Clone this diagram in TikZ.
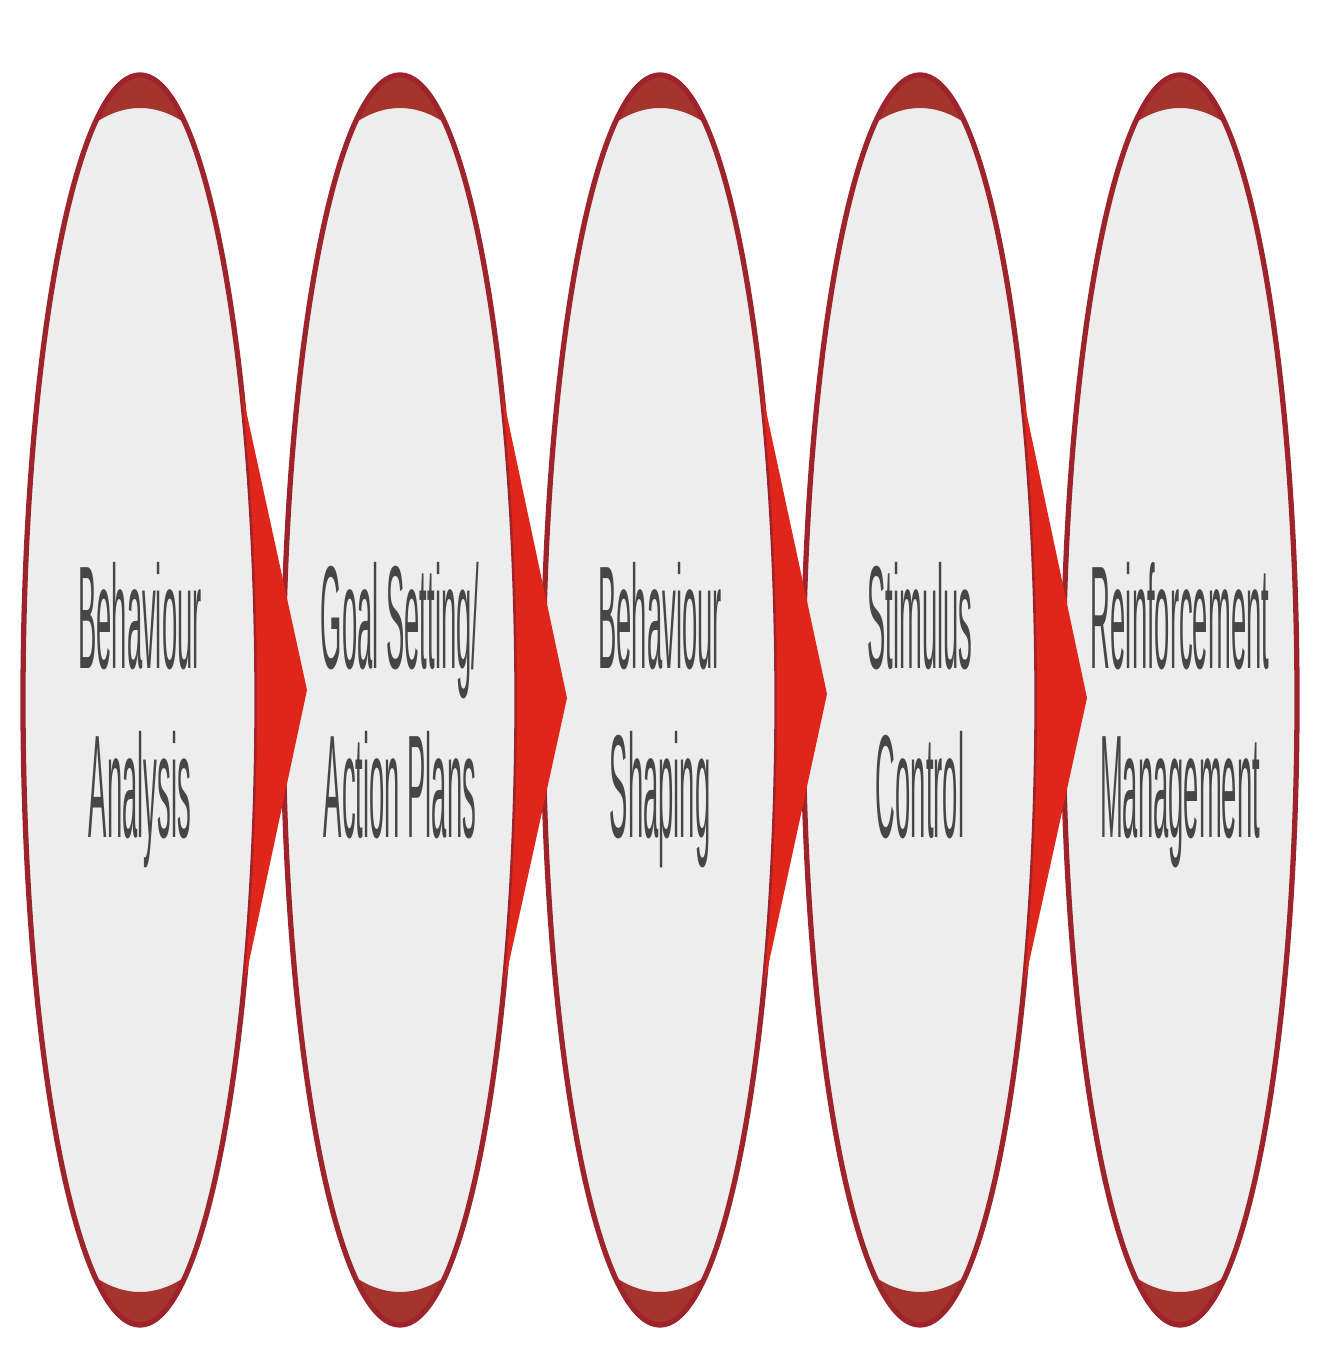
\documentclass[tikz,border=0pt]{standalone}
\usepackage{fontspec}
\setmainfont{Liberation Sans}
\usetikzlibrary{shapes.geometric}
\definecolor{stagegray}{RGB}{237,237,237}
\definecolor{stagered}{RGB}{158,36,44}
\definecolor{capred}{RGB}{166,52,46}
\definecolor{chevred}{RGB}{224,38,26}
\definecolor{labelgray}{RGB}{70,70,70}
\newcommand{\sq}[1]{\makebox[0pt]{\scalebox{0.187}[1]{\smash{#1}\vphantom{h}}}}

\begin{document}
\begin{tikzpicture}[every node/.style={font=\fontsize{41.7}{48.1}\selectfont,text=labelgray},
  stage/.style={ellipse,draw=stagered,line width=1.5pt,fill=stagegray,minimum width=2.34cm,minimum height=12.5cm,
    inner sep=0pt,outer sep=0pt,align=center,
    path picture={\fill[capred,even odd rule] (path picture bounding box.south west) rectangle (path picture bounding box.north east)
      (path picture bounding box.center) ellipse (2.0cm and 5.92cm);}},
  chev/.style={fill=chevred}]
  \useasboundingbox (0,0) rectangle (13.26,13.54);
  \node[stage] (s1) at (1.40,6.54) {\sq{Behaviour}\\\sq{Analysis}};
  \node[stage] (s2) at (4.00,6.54) {\sq{Goal Setting/}\\\sq{Action Plans}};
  \node[stage] (s3) at (6.60,6.54) {\sq{Behaviour}\\\sq{Shaping}};
  \node[stage] (s4) at (9.20,6.54) {\sq{Stimulus}\\\sq{Control}};
  \node[stage] (s5) at (11.80,6.54) {\sq{Reinforcement}\\\sq{Management}};
  % red arrows between the stages
  \fill[chev] ([shift={(1.016,3.097)}]s1.center) arc[start angle=29.7,end angle=-27.1,x radius=1.17cm,y radius=6.25cm] -- ([shift={(0.24,0.10)}]s2.west) -- cycle;
  \fill[chev] ([shift={(1.016,3.097)}]s2.center) arc[start angle=29.7,end angle=-27.1,x radius=1.17cm,y radius=6.25cm] -- ([shift={(0.24,0.02)}]s3.west) -- cycle;
  \fill[chev] ([shift={(1.016,3.097)}]s3.center) arc[start angle=29.7,end angle=-27.1,x radius=1.17cm,y radius=6.25cm] -- ([shift={(0.24,0.06)}]s4.west) -- cycle;
  \fill[chev] ([shift={(1.016,3.097)}]s4.center) arc[start angle=29.7,end angle=-27.1,x radius=1.17cm,y radius=6.25cm] -- ([shift={(0.24,0.02)}]s5.west) -- cycle;
\end{tikzpicture}
\end{document}
